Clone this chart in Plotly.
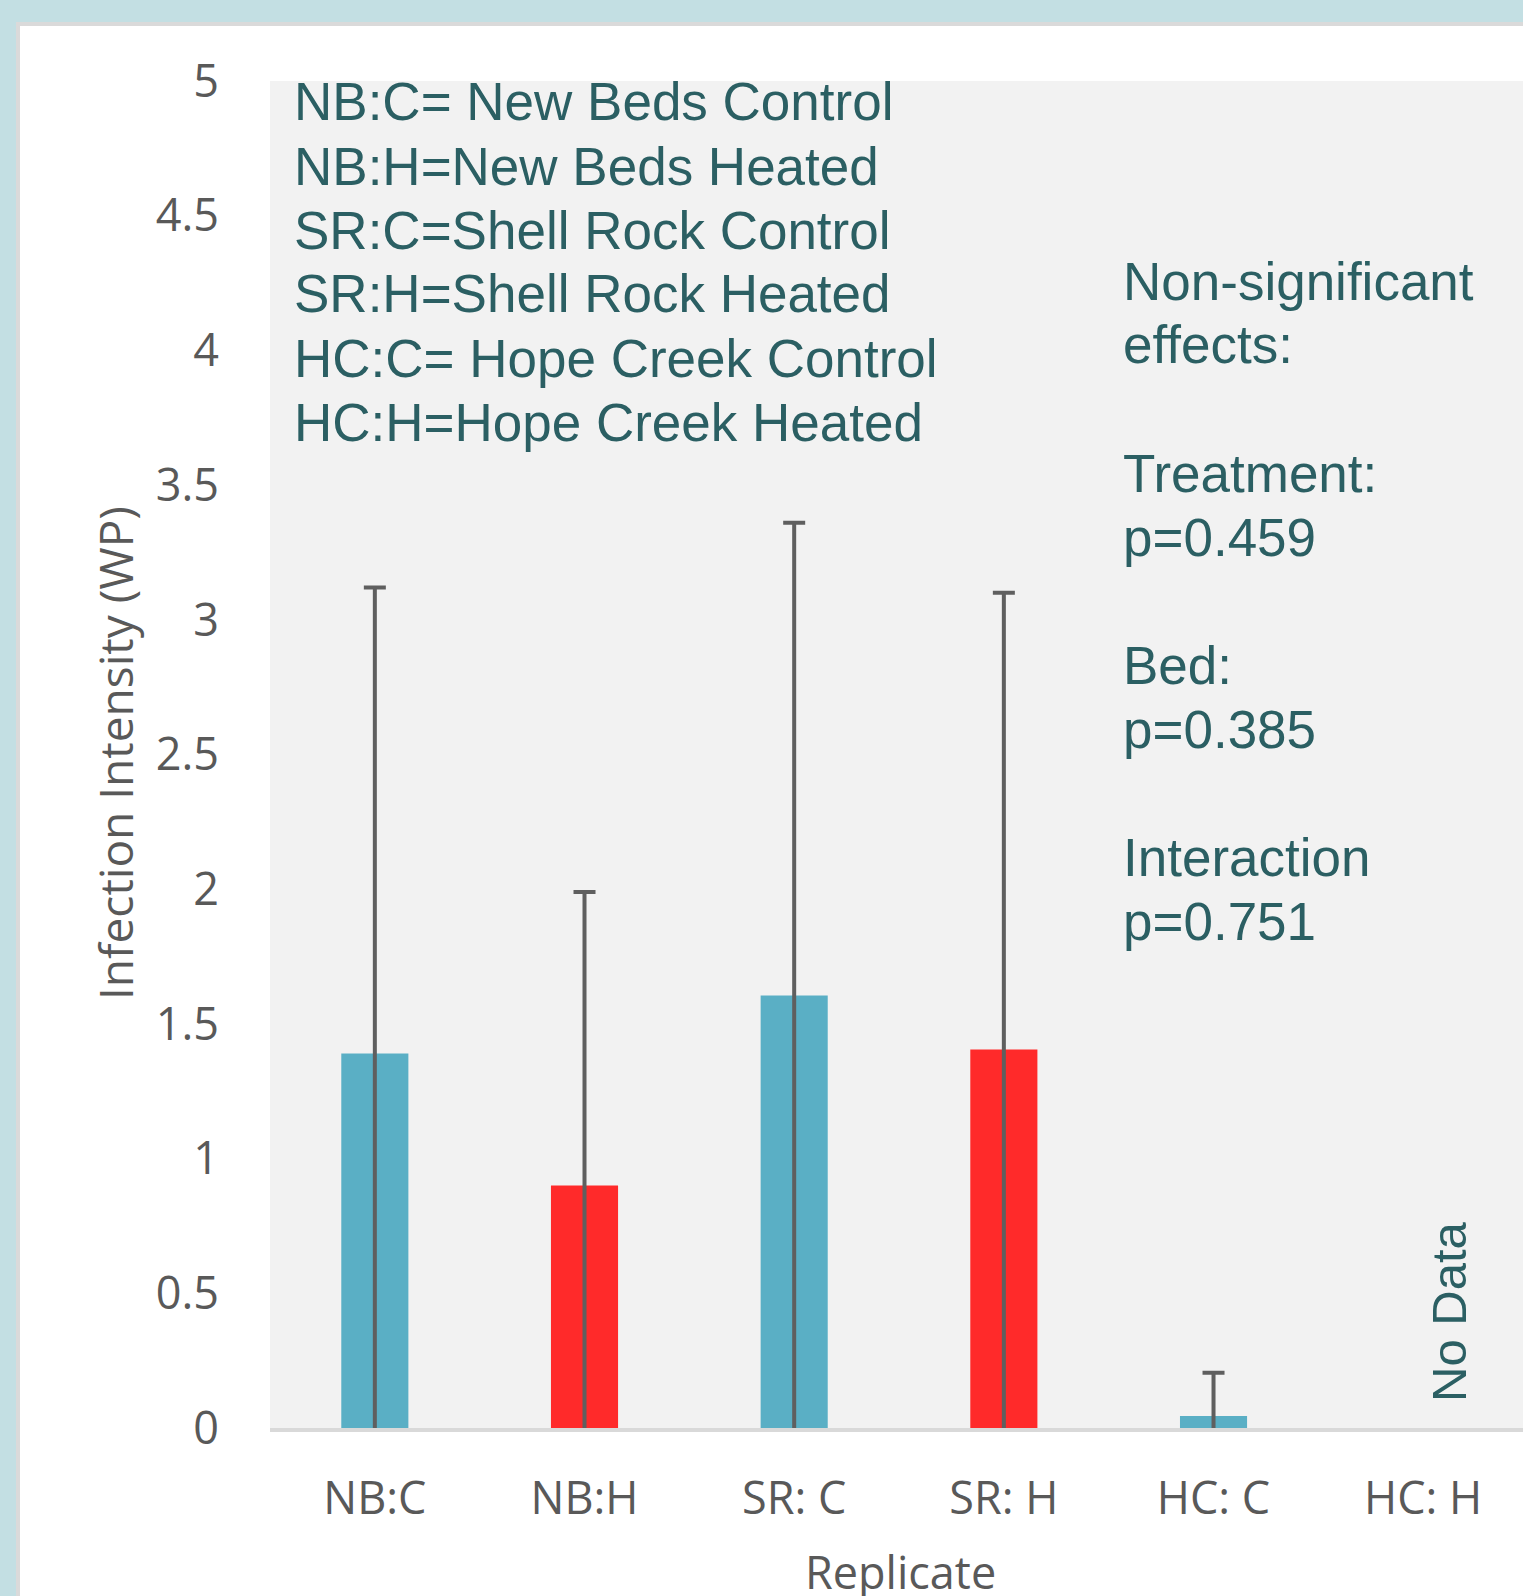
import plotly.graph_objects as go

# ---- data ----
categories = ["NB:C", "NB:H", "SR: C", "SR: H", "HC: C", "HC: H"]
means = [1.39, 0.90, 1.605, 1.405, 0.045, None]
err_plus = [1.73, 1.09, 1.755, 1.695, 0.16, None]
bar_colors = ["#5AAFC5", "#FF2A2A", "#5AAFC5", "#FF2A2A", "#5AAFC5", "#5AAFC5"]
legend_lines = [
    "NB:C= New Beds Control",
    "NB:H=New Beds Heated",
    "SR:C=Shell Rock Control",
    "SR:H=Shell Rock Heated",
    "HC:C= Hope Creek Control",
    "HC:H=Hope Creek Heated",
]
stats_lines = ["Non-significant", "effects:", "Treatment:", "p=0.459",
               "Bed:", "p=0.385", "Interaction", "p=0.751"]
y_title = "Infection Intensity (WP)"
x_title = "Replicate"
no_data_text = "No Data"

# ---- layout geometry ----
W, H = 1523, 1596
L, T, B = 270, 81, 1428  # plot area pixel edges
PW, PH = W - L, B - T

def X(px):
    return (px - L) / PW

def Y(py):
    return (B - py) / PH

TEAL = "#2B5F63"
GREY = "#595959"

fig = go.Figure()
fig.add_trace(go.Bar(
    x=categories, y=means, width=0.32,
    marker=dict(color=bar_colors, line=dict(width=0)),
    error_y=dict(type="data", symmetric=True, array=err_plus,
                 color="#5F5F5F", thickness=4, width=11),
    showlegend=False,
))

annotations = []
legend_y = [101.8, 166, 230, 294, 358, 422.5]
for txt, py in zip(legend_lines, legend_y):
    annotations.append(dict(text=txt, xref="paper", yref="paper", x=X(292), y=Y(py),
                            xanchor="left", yanchor="middle", showarrow=False,
                            font=dict(family="Liberation Sans, Arial", size=53, color=TEAL)))
stats_y = [281, 345, 473, 537, 666, 729, 857, 921]
for txt, py in zip(stats_lines, stats_y):
    annotations.append(dict(text=txt, xref="paper", yref="paper", x=X(1121), y=Y(py),
                            xanchor="left", yanchor="middle", showarrow=False,
                            font=dict(family="Liberation Sans, Arial", size=53, color=TEAL)))
annotations.append(dict(text=no_data_text, xref="paper", yref="paper", x=X(1449), y=Y(1312),
                        xanchor="center", yanchor="middle", textangle=-90, showarrow=False,
                        font=dict(family="Liberation Sans, Arial", size=49, color=TEAL)))
annotations.append(dict(text=y_title, xref="paper", yref="paper", x=X(115), y=Y(753),
                        xanchor="center", yanchor="middle", textangle=-90, showarrow=False,
                        font=dict(family="Open Sans", size=46, color=GREY)))
annotations.append(dict(text=x_title, xref="paper", yref="paper", x=X(900), y=Y(1571),
                        xanchor="center", yanchor="middle", showarrow=False,
                        font=dict(family="Open Sans", size=45, color=GREY)))

shapes = [
    dict(type="rect", xref="paper", yref="paper", x0=X(0), x1=X(W + 10), y0=Y(0), y1=Y(22),
         fillcolor="#C3DFE3", line=dict(width=0), layer="below"),
    dict(type="rect", xref="paper", yref="paper", x0=X(0), x1=X(16), y0=Y(0), y1=Y(H + 10),
         fillcolor="#C3DFE3", line=dict(width=0), layer="below"),
    dict(type="rect", xref="paper", yref="paper", x0=X(16), x1=X(W + 10), y0=Y(22), y1=Y(26),
         fillcolor="#DADADA", line=dict(width=0), layer="below"),
    dict(type="rect", xref="paper", yref="paper", x0=X(16), x1=X(20), y0=Y(22), y1=Y(H + 10),
         fillcolor="#DADADA", line=dict(width=0), layer="below"),
]

fig.update_layout(
    width=W, height=H,
    margin=dict(l=L, r=0, t=T, b=H - B, pad=0),
    paper_bgcolor="white", plot_bgcolor="#F2F2F2",
    annotations=annotations, shapes=shapes,
    xaxis=dict(type="category", range=[-0.5, 5.476], showgrid=False, zeroline=False,
               showline=True, linecolor="#D9D9D9", linewidth=4, ticks="",
               tickfont=dict(family="Open Sans", size=45, color=GREY),
               ticklabelstandoff=28),
    yaxis=dict(range=[0, 5], dtick=0.5, tick0=0, showgrid=False, zeroline=False,
               showline=False, ticks="",
               tickfont=dict(family="Open Sans", size=45, color=GREY),
               ticklabelstandoff=50),
)

fig.write_html("out.html", config={"displayModeBar": False},
               post_script="document.body.style.margin='0';document.body.style.overflow='hidden';")
